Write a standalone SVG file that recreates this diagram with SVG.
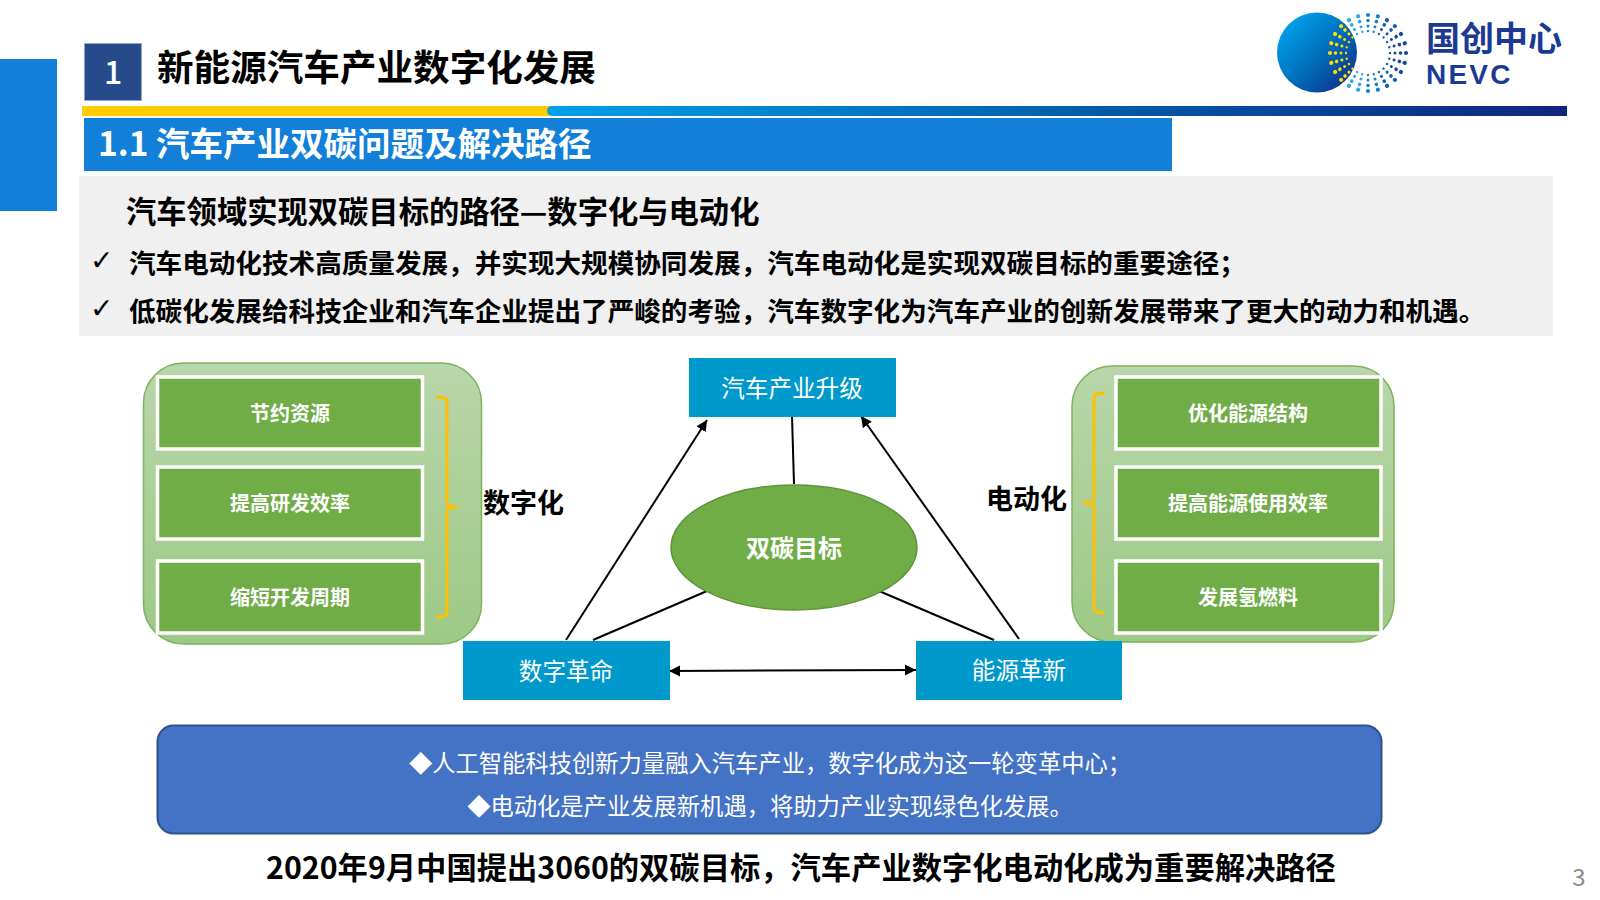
<svg xmlns="http://www.w3.org/2000/svg" width="1600" height="900" viewBox="0 0 1600 900">
<style>
text{font-family:"Noto Sans CJK SC","Noto Sans",sans-serif;dominant-baseline:central}
.c{text-anchor:middle}
.b{font-weight:700}
.w{fill:#fff}
.k{fill:#000}
.box{fill:#70AD47;stroke:#fff;stroke-width:3.5}
.panel{fill:url(#pg);stroke:#7DB35A;stroke-width:1.5}
.node{fill:#0099CC}
.nt{font-size:23.6px;fill:#fff}
.bt{font-size:20px;font-weight:700;fill:#fff}
.lab{font-size:27px;font-weight:700;fill:#000}
.br{fill:none;stroke:#FFC000;stroke-width:3}
.ln{stroke:#000;stroke-width:2;fill:none}
.li{font-size:26.6px;font-weight:700;fill:#000}
.ck{font-family:"DejaVu Sans",sans-serif;font-size:28px;fill:#000}
.bl{font-size:23.3px;fill:#fff}
</style>
<defs>
<linearGradient id="pg" x1="0" y1="0" x2="0" y2="1"><stop offset="0" stop-color="#B9D6AA"/><stop offset="1" stop-color="#9DC986"/></linearGradient>
<linearGradient id="bar" x1="0" y1="0" x2="1" y2="0"><stop offset="0" stop-color="#00A0E9"/><stop offset="0.5" stop-color="#0060AE"/><stop offset="1" stop-color="#11257F"/></linearGradient>
<linearGradient id="ball" x1="0" y1="0" x2="1" y2="1"><stop offset="0.1" stop-color="#00A4EC"/><stop offset="0.5" stop-color="#0072BF"/><stop offset="0.95" stop-color="#122C86"/></linearGradient>
<marker id="a" markerUnits="userSpaceOnUse" markerWidth="12" markerHeight="12" refX="11" refY="6" orient="auto-start-reverse"><path d="M0 0.5L11 6L0 11.5z" fill="#000"/></marker>
<g id="ray"><circle cx="-22" r="1.2"/><circle cx="-27" r="1.5"/><circle cx="-32.500" r="1.8"/><circle cx="-38" r="2.100"/></g>
</defs>
<rect width="1600" height="900" fill="#fff"/>
<g id="side"><rect x="0" y="59" width="57" height="152" fill="#127FD9"/></g>
<g id="header">
<rect x="84.500" y="43.500" width="57" height="57" fill="#264A8A" stroke="#8FA6CC"/>
<text class="c w" x="113" y="70" font-size="32" font-weight="500">1</text>
<text class="b k" x="157" y="65" font-size="36.600">新能源汽车产业数字化发展</text>
<rect x="82" y="106" width="470" height="10" fill="#FFCC00"/>
<path d="M552 106H1567V116H552A5 5 0 0 1 552 106z" fill="url(#bar)"/>
</g>
<g id="logo">
<circle cx="1317" cy="52.500" r="40" fill="url(#ball)"/>
<g transform="translate(1368 53)">
<g fill="#FFDD00"><use href="#ray"/><use href="#ray" transform="rotate(15)"/><use href="#ray" transform="rotate(30)"/><use href="#ray" transform="rotate(45)"/><use href="#ray" transform="rotate(-15)"/><use href="#ray" transform="rotate(-30)"/><use href="#ray" transform="rotate(-45)"/></g>
<g fill="#2FA5E4"><use href="#ray" transform="rotate(60)"/><use href="#ray" transform="rotate(-60)"/><use href="#ray" transform="rotate(75)"/><use href="#ray" transform="rotate(-75)"/></g>
<g fill="#1780C8"><use href="#ray" transform="rotate(90)"/><use href="#ray" transform="rotate(-90)"/><use href="#ray" transform="rotate(105)"/><use href="#ray" transform="rotate(-105)"/></g>
<g fill="#125EAC"><use href="#ray" transform="rotate(120)"/><use href="#ray" transform="rotate(-120)"/><use href="#ray" transform="rotate(135)"/><use href="#ray" transform="rotate(-135)"/></g>
<g fill="#14479B"><use href="#ray" transform="rotate(150)"/><use href="#ray" transform="rotate(-150)"/><use href="#ray" transform="rotate(165)"/><use href="#ray" transform="rotate(-165)"/><use href="#ray" transform="rotate(180)"/></g>
</g>
<text x="1426" y="36" font-size="34" font-weight="700" fill="#1B3A94">国创中心</text>
<text x="1426" y="74" font-size="28" font-weight="700" letter-spacing="2.200" fill="#1B3A94" style="font-family:'Liberation Sans',sans-serif">NEVC</text>
</g>
<g id="subtitle">
<rect x="84" y="118" width="1088" height="53" fill="#127FD9"/>
<text class="b w" x="98" y="141" font-size="33.500">1.1 汽车产业双碳问题及解决路径</text>
</g>
<g id="summary">
<rect x="79" y="176" width="1474" height="160" fill="#F0F0F0"/>
<text class="b k" x="126" y="210" font-size="30.300">汽车领域实现双碳目标的路径—数字化与电动化</text>
<text class="ck" x="90" y="260">✓</text>
<text class="li" x="129" y="261">汽车电动化技术高质量发展，并实现大规模协同发展，汽车电动化是实现双碳目标的重要途径；</text>
<text class="ck" x="90" y="308">✓</text>
<text class="li" x="129" y="309">低碳化发展给科技企业和汽车企业提出了严峻的考验，汽车数字化为汽车产业的创新发展带来了更大的动力和机遇。</text>
</g>
<g id="panel-digital">
<rect class="panel" x="143.500" y="363" width="338" height="281" rx="40"/>
<rect class="box" x="157.500" y="377" width="265" height="72"/>
<text class="bt c" x="290" y="412">节约资源</text>
<rect class="box" x="157.500" y="467" width="265" height="72"/>
<text class="bt c" x="290" y="502">提高研发效率</text>
<rect class="box" x="157.500" y="561" width="265" height="72"/>
<text class="bt c" x="290" y="596">缩短开发周期</text>
<path class="br" d="M436 397Q447 397 447 401V503Q447 507 458 507Q447 507 447 511V613Q447 617 436 617"/>
<text class="lab" x="483" y="501">数字化</text>
</g>
<g id="panel-electric">
<rect class="panel" x="1072" y="366" width="322" height="276" rx="40"/>
<rect class="box" x="1116" y="377" width="265" height="72"/>
<text class="bt c" x="1248" y="412">优化能源结构</text>
<rect class="box" x="1116" y="467" width="265" height="72"/>
<text class="bt c" x="1248" y="502">提高能源使用效率</text>
<rect class="box" x="1116" y="561" width="265" height="72"/>
<text class="bt c" x="1248" y="596">发展氢燃料</text>
<path class="br" d="M1105 393Q1094 393 1094 397V499Q1094 503 1083 503Q1094 503 1094 507V609Q1094 613 1105 613"/>
<text class="lab" x="986" y="497">电动化</text>
</g>
<g id="connectors">
<line class="ln" x1="792" y1="416" x2="794" y2="484"/>
<line class="ln" x1="566" y1="640" x2="707" y2="420" marker-end="url(#a)"/>
<line class="ln" x1="1019" y1="639" x2="861" y2="416" marker-end="url(#a)"/>
<line class="ln" x1="593" y1="640" x2="707" y2="591"/>
<line class="ln" x1="879" y1="591" x2="994" y2="640"/>
<line class="ln" x1="669" y1="671" x2="916" y2="670" marker-start="url(#a)" marker-end="url(#a)"/>
</g>
<g id="upgrade"><rect class="node" x="689" y="358" width="207" height="59"/><text class="nt c" x="792" y="387">汽车产业升级</text></g>
<g id="goal"><ellipse cx="794" cy="547.500" rx="123" ry="62.500" fill="#70AD47" stroke="#5E9438" stroke-width="1.500"/><text class="c b w" x="794" y="546" font-size="24">双碳目标</text></g>
<g id="digital"><rect class="node" x="463" y="641" width="207" height="59"/><text class="nt c" x="566" y="670">数字革命</text></g>
<g id="energy"><rect class="node" x="916" y="641" width="206" height="59"/><text class="nt c" x="1019" y="669">能源革新</text></g>
<g id="note">
<rect x="157.500" y="725.500" width="1224" height="108" rx="16" fill="#4472C4" stroke="#2F528F" stroke-width="2"/>
<text class="bl c" x="770" y="762">◆人工智能科技创新力量融入汽车产业，数字化成为这一轮变革中心；</text>
<text class="bl c" x="770" y="805">◆电动化是产业发展新机遇，将助力产业实现绿色化发展。</text>
</g>
<g id="conclusion"><text class="c b k" x="801" y="866" font-size="30.300">2020年9月中国提出3060的双碳目标，汽车产业数字化电动化成为重要解决路径</text></g>
<g id="page"><text class="c" x="1579" y="875" font-size="24" fill="#898989">3</text></g>
</svg>
